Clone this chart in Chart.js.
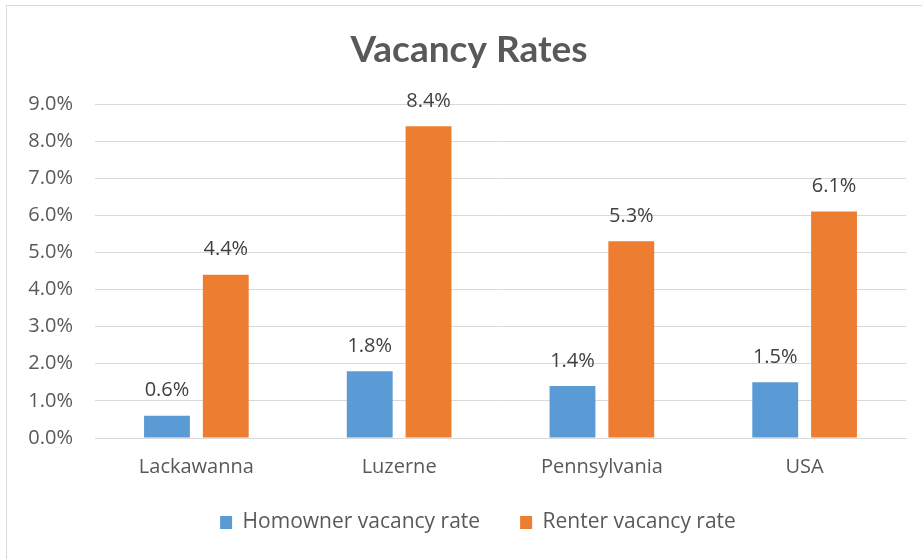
<!DOCTYPE html>
<html><head><meta charset="utf-8">
<script src="https://cdn.jsdelivr.net/npm/chart.js@4.4.1/dist/chart.umd.min.js"></script>
<style>html,body{margin:0;padding:0;background:#fff}#wrap{position:relative;width:922px;height:559px}</style>
</head><body><div id="wrap"><canvas id="c" width="922" height="559"></canvas></div>
<script>
const categories = ["Lackawanna", "Luzerne", "Pennsylvania", "USA"];
const homeownerRates = [0.6, 1.8, 1.4, 1.5];
const renterRates = [4.4, 8.4, 5.3, 6.1];
const seriesNames = ["Homowner vacancy rate", "Renter vacancy rate"];
const yTickValues = [0, 1, 2, 3, 4, 5, 6, 7, 8, 9];
const titleText = "Vacancy Rates";

const FONT = "'Open Sans', sans-serif";
const TITLE_FONT = "Lato, 'Open Sans', sans-serif";
const TEXT = "#595959";

const borderPlugin = {
  id: 'outerBorder',
  beforeDraw(chart) {
    const ctx = chart.ctx;
    ctx.save();
    ctx.fillStyle = '#fff';
    ctx.fillRect(0, 0, chart.width, chart.height);
    ctx.strokeStyle = '#D9D9D9';
    ctx.lineWidth = 1;
    ctx.strokeRect(6.5, 5.5, chart.width + 10, chart.height + 10);
    ctx.restore();
  }
};

// nudge title and legend boxes to match the reference placement
const placePlugin = {
  id: 'placeBlocks',
  afterLayout(chart) {
    const t = chart.titleBlock;
    if (t) { t.left += 16; t.right += 16; }
    const lg = chart.legend;
    if (lg) {
      const h = lg.bottom - lg.top;
      lg.top = 472; lg.bottom = 472 + h;
      lg.left += 25; lg.right += 25;
    }
  }
};

const labelPlugin = {
  id: 'valueLabels',
  afterDatasetsDraw(chart) {
    const ctx = chart.ctx;
    ctx.save();
    ctx.font = "20px " + FONT;
    ctx.fillStyle = "#404040";
    ctx.textAlign = 'center';
    ctx.textBaseline = 'middle';
    chart.data.datasets.forEach((ds, i) => {
      const meta = chart.getDatasetMeta(i);
      meta.data.forEach((el, j) => {
        ctx.fillText(ds.data[j].toFixed(1) + '%', el.x, el.y - 25);
      });
    });
    ctx.restore();
  }
};

new Chart(document.getElementById('c'), {
  type: 'bar',
  data: {
    labels: categories,
    datasets: [
      { label: seriesNames[0], data: homeownerRates, backgroundColor: '#5B9BD5', borderWidth: 0 },
      { label: seriesNames[1], data: renterRates, backgroundColor: '#ED7D31', borderWidth: 0 }
    ]
  },
  options: {
    responsive: false,
    animation: false,
    devicePixelRatio: 1,
    layout: { padding: { left: 0, right: 16, top: 0, bottom: 0 } },
    datasets: { bar: { categoryPercentage: 0.58, barPercentage: 0.78 } },
    plugins: {
      title: {
        display: true, text: titleText, color: TEXT,
        font: { family: TITLE_FONT, size: 37, weight: 'bold' },
        padding: { top: 28, bottom: 31.6 }
      },
      legend: {
        position: 'bottom',
        labels: {
          color: TEXT, boxWidth: 12, boxHeight: 13, padding: 40,
          font: { family: FONT, size: 21 }
        }
      },
      tooltip: { enabled: false }
    },
    scales: {
      x: {
        grid: { display: false, drawTicks: false },
        border: { color: '#D9D9D9' },
        ticks: { color: TEXT, font: { family: FONT, size: 20 }, padding: 17 },
        afterFit(s) { s.height = 50; }
      },
      y: {
        min: 0, max: 9,
        afterBuildTicks(s) { s.ticks = yTickValues.map(v => ({ value: v })); },
        grid: { color: '#D9D9D9', drawTicks: false },
        border: { display: false },
        ticks: {
          color: TEXT, font: { family: FONT, size: 20 }, padding: 22,
          callback: v => v.toFixed(1) + '%'
        },
        afterFit(s) { s.width = 95; }
      }
    }
  },
  plugins: [borderPlugin, placePlugin, labelPlugin]
});
</script>
</body></html>
